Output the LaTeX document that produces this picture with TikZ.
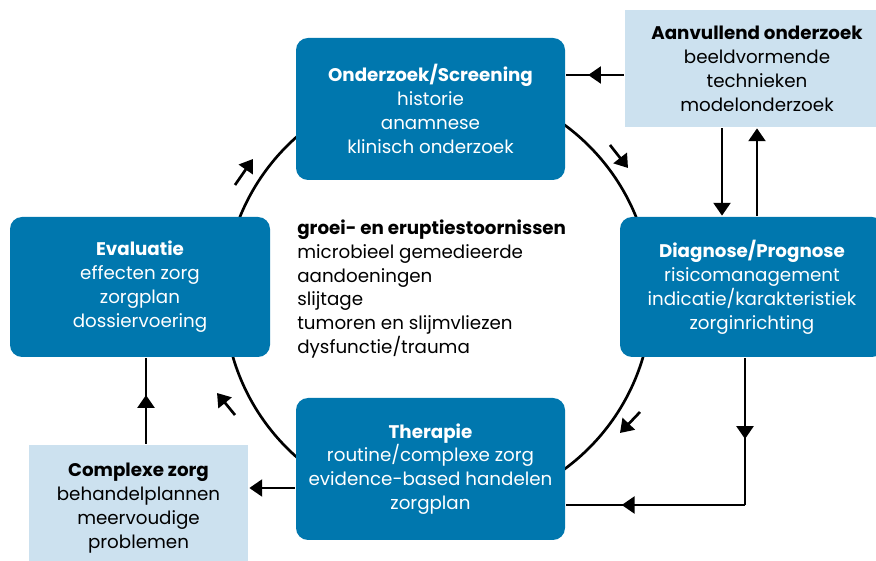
\documentclass[tikz,border=0pt]{standalone}
\usepackage{fontspec}
\setmainfont{Poppins}
\usepackage{tikz}
\usetikzlibrary{arrows.meta,decorations.markings}
\definecolor{blok}{RGB}{0,119,174}
\definecolor{extra}{RGB}{204,225,239}
\tikzset{
  pijl/.style={-{Triangle[length=3.2mm,width=4.2mm]}},
  halverwege/.style={postaction={decorate},
    decoration={markings,mark=at position #1 with {\arrow{Triangle[length=3.2mm,width=4.2mm]}}}}
}

\begin{document}
\begin{tikzpicture}[line width=1.9pt, font=\fontsize{13}{17}\selectfont]
				\useasboundingbox (0,0) rectangle (21.9,14.025);
				\clip (0,0) rectangle (21.9,14.025);
				\coordinate (midden) at (10.95,6.6);
				\draw (midden) circle (5.34);
				\begin{scope}[every node/.style={rounded corners=3mm,fill=blok,text=white,align=center,inner sep=0pt}]
					\node[minimum width=6.725cm,minimum height=3.55cm] (onderzoek) at (10.7625,11.3) {\textbf{Onderzoek/Screening}\\historie\\anamnese\\klinisch onderzoek};
					\node[minimum width=6.6cm,minimum height=3.5cm] (diagnose) at (18.8,6.85) {\textbf{Diagnose/Prognose}\\risicomanagement\\indicatie/karakteristiek\\zorginrichting};
					\node[minimum width=6.725cm,minimum height=3.55cm] (therapie) at (10.7625,2.3) {\textbf{Therapie}\\routine/complexe zorg\\evidence-based handelen\\zorgplan};
					\node[minimum width=6.5cm,minimum height=3.5cm] (evaluatie) at (3.5,6.85) {\textbf{Evaluatie}\\effecten zorg\\zorgplan\\dossiervoering};
				\end{scope}
				\begin{scope}[every node/.style={fill=extra,text=black,align=center,inner sep=0pt}]
					\node[minimum width=6.6cm,minimum height=2.925cm] (aanvullend) at (18.925,12.3125) {\textbf{Aanvullend onderzoek}\\beeldvormende\\technieken\\modelonderzoek};
					\node[minimum width=5.475cm,minimum height=3.15cm] (complexe) at (3.4625,1.325) {\textbf{Complexe zorg}\\behandelplannen\\meervoudige\\problemen};
				\end{scope}
				\node[anchor=west,align=left,inner sep=0pt] (aandoeningen) at (7.4,6.8) {\textbf{groei- en eruptiestoornissen}\\microbieel gemedieerde\\aandoeningen\\slijtage\\tumoren en slijmvliezen\\dysfunctie/trauma};

				% kleine pijlen langs de cirkel
				\coordinate (rb1) at (15.25,10.4);   \coordinate (rb2) at (15.7,9.825);
				\coordinate (ro1) at (16.0,3.725);   \coordinate (ro2) at (15.5,3.2);
				\coordinate (lo1) at (5.875,3.65);   \coordinate (lo2) at (5.425,4.2);
				\coordinate (lb1) at (5.875,9.4);    \coordinate (lb2) at (6.325,10.05);
				\coordinate (knik) at (18.625,1.4);
				\begin{scope}[]
					\draw [pijl] (rb1) -- (rb2);
					\draw [pijl] (ro1) -- (ro2);
					\draw [pijl] (lo1) -- (lo2);
					\draw [pijl] (lb1) -- (lb2);

					\draw [halverwege=0.62] (aanvullend.west |- 0,12.15) -- (onderzoek.east |- 0,12.15);
					\draw [pijl] (aanvullend.south -| 18.05,0) -- (diagnose.north -| 18.05,0);
					\draw [pijl] (diagnose.north -| 18.925,0) -- (aanvullend.south -| 18.925,0);

					\draw [halverwege=0.55] (diagnose.south -| knik) -- (knik);
					\draw [halverwege=0.69] (knik) -- (therapie.east |- knik);

					\draw [pijl] (therapie.west |- 0,1.825) -- (complexe.east |- 0,1.825);
					\draw [halverwege=0.57] (complexe.north -| 3.65,0) -- (evaluatie.south -| 3.65,0);
				\end{scope}
\end{tikzpicture}
\end{document}
